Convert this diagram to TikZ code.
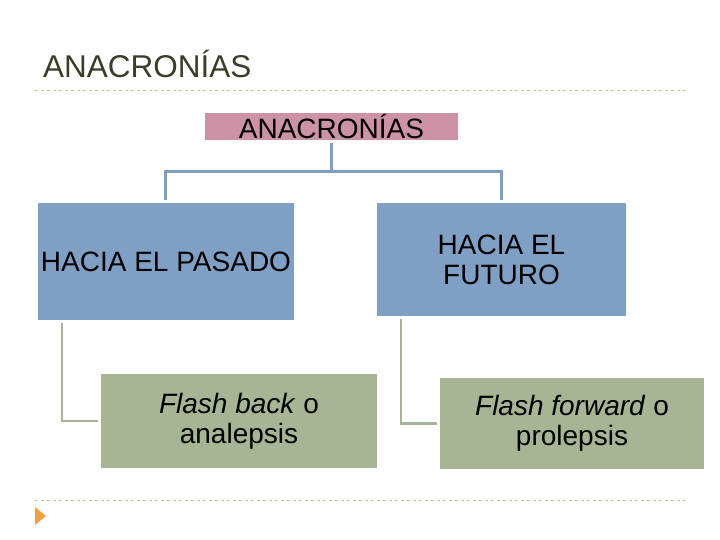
\documentclass[tikz,border=0pt]{standalone}
\usepackage{fontspec}
\setmainfont{Liberation Sans}
\usetikzlibrary{positioning}

\definecolor{pinkbox}{HTML}{CC93A7}
\definecolor{bluebox}{HTML}{7F9FC4}
\definecolor{greenbox}{HTML}{A7B594}
\definecolor{blueline}{HTML}{7F9FC2}
\definecolor{greenline}{HTML}{A8B298}
\definecolor{rule}{HTML}{D8BE94}
\definecolor{titletext}{HTML}{3C3C28}
\definecolor{bullet}{HTML}{F0A040}

\begin{document}
\begin{tikzpicture}[x=1pt, y=-1pt]
	% Setup the styles for the boxes and lines
	\tikzset{box style/.style={rectangle, inner sep=0pt, align=center,
			font=\fontsize{28}{30}\selectfont},
		root style/.style={box style, fill=pinkbox,
			minimum width=253pt, minimum height=27pt},
		level style/.style={box style, fill=bluebox},
		leaf style/.style={box style, fill=greenbox},
		blue link/.style={draw=blueline, line width=3pt,
			shorten <=3pt, shorten >=3pt},
		green link/.style={draw=greenline, line width=2.7pt,
			shorten <=3pt, shorten >=3pt},
		rule line/.style={draw=rule, dashed, line width=0.8pt}}
	
	\useasboundingbox (0,0) rectangle (720,540);
	
	\node[anchor=base west, inner sep=0pt, text=titletext,
	font=\fontsize{31.5}{34}\selectfont] (title) at (43,78) {ANACRONÍAS};
	\draw[rule line] (35,90) -- (686,90);
	\draw[rule line] (35,500) -- (686,500);
	\fill[bullet] (35,507) -- (46,516) -- (35,525) -- cycle;
	
	\node[root style]                                              (root)    at (331.5,126.5) {ANACRONÍAS};
	\node[level style, minimum width=256pt, minimum height=117pt] (past)    at (166,261.5)   {HACIA EL PASADO};
	\node[level style, minimum width=249pt, minimum height=113pt] (future)  at (501.5,259.5)  {HACIA EL\\FUTURO};
	\node[leaf style, minimum width=276pt, minimum height=94pt]   (back)    at (239,421)     {\textit{Flash back} o\\analepsis};
	\node[leaf style, minimum width=264pt, minimum height=91pt]   (forward) at (572,423.5)   {\textit{Flash forward} o\\prolepsis};
	
	\coordinate (fork) at (331.5,172);
	\coordinate (past top) at (165,203);
	\coordinate (future top) at (501.5,203);
	\draw[blue link, shorten >=0pt] (root.south) -- (fork);
	\draw[blue link, shorten <=0pt] (fork) -| (past top);
	\draw[blue link, shorten <=0pt] (fork) -| (future top);
	
	\coordinate (past foot) at (62,320);
	\coordinate (future foot) at (401,316);
	\draw[green link] (past foot) |- (back.west);
	\draw[green link] (future foot) |- (forward.west);
	
\end{tikzpicture}
\end{document}
